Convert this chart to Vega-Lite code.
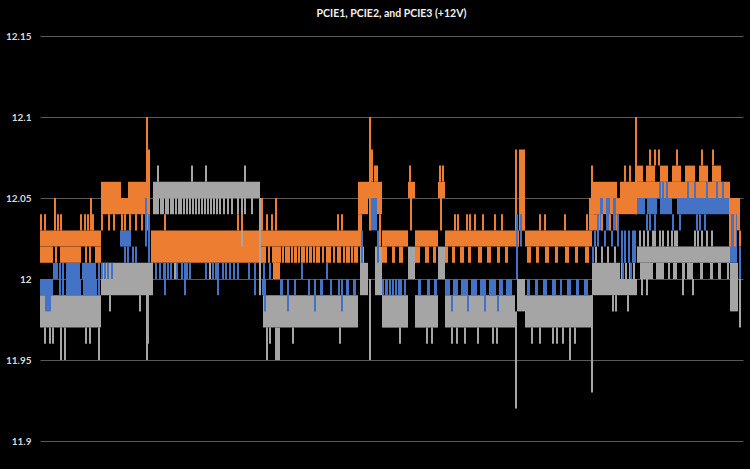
{
  "$schema": "https://vega.github.io/schema/vega-lite/v6.json",
  "title": {
    "text": "PCIE1, PCIE2, and PCIE3 (+12V)",
    "font": "Lato",
    "fontSize": 10.5,
    "fontWeight": "bold",
    "color": "#f2f2f2",
    "offset": 12
  },
  "background": "#000000",
  "autosize": {"type": "none"},
  "padding": {"left": 40, "top": 36, "right": 7, "bottom": 28},
  "width": 703,
  "height": 405,
  "config": {"view": {"stroke": null}},
  "datasets": {
    "bands": [
      {"s": "PCIE3", "t0": 0, "t1": 61, "lo": 11.97, "hi": 11.99},
      {"s": "PCIE3", "t0": 61, "t1": 113, "lo": 11.99, "hi": 12.01},
      {"s": "PCIE3", "t0": 113, "t1": 220, "lo": 12.05, "hi": 12.06},
      {"s": "PCIE3", "t0": 223, "t1": 318, "lo": 11.97, "hi": 11.99},
      {"s": "PCIE3", "t0": 235, "t1": 240, "lo": 11.95, "hi": 11.97},
      {"s": "PCIE3", "t0": 320, "t1": 328, "lo": 11.99, "hi": 12.01},
      {"s": "PCIE3", "t0": 320, "t1": 324, "lo": 12.01, "hi": 12.02},
      {"s": "PCIE3", "t0": 335, "t1": 342, "lo": 11.99, "hi": 12.02},
      {"s": "PCIE3", "t0": 342, "t1": 368, "lo": 11.97, "hi": 11.99},
      {"s": "PCIE3", "t0": 368, "t1": 375, "lo": 12.0, "hi": 12.02},
      {"s": "PCIE3", "t0": 375, "t1": 398, "lo": 11.97, "hi": 11.99},
      {"s": "PCIE3", "t0": 398, "t1": 405, "lo": 12.0, "hi": 12.02},
      {"s": "PCIE3", "t0": 405, "t1": 475, "lo": 11.97, "hi": 11.99},
      {"s": "PCIE3", "t0": 477, "t1": 485, "lo": 11.98, "hi": 12.0},
      {"s": "PCIE3", "t0": 485, "t1": 552, "lo": 11.97, "hi": 11.99},
      {"s": "PCIE3", "t0": 552, "t1": 580, "lo": 11.99, "hi": 12.01},
      {"s": "PCIE3", "t0": 580, "t1": 597, "lo": 11.99, "hi": 12.0},
      {"s": "PCIE3", "t0": 597, "t1": 690, "lo": 12.01, "hi": 12.02},
      {"s": "PCIE3", "t0": 600, "t1": 613, "lo": 12.0, "hi": 12.01},
      {"s": "PCIE3", "t0": 616, "t1": 624, "lo": 12.0, "hi": 12.01},
      {"s": "PCIE3", "t0": 628, "t1": 630, "lo": 12.0, "hi": 12.01},
      {"s": "PCIE3", "t0": 633, "t1": 637, "lo": 12.0, "hi": 12.01},
      {"s": "PCIE3", "t0": 642, "t1": 645, "lo": 12.0, "hi": 12.01},
      {"s": "PCIE3", "t0": 647, "t1": 653, "lo": 12.0, "hi": 12.01},
      {"s": "PCIE3", "t0": 660, "t1": 663, "lo": 12.0, "hi": 12.01},
      {"s": "PCIE3", "t0": 670, "t1": 673, "lo": 12.0, "hi": 12.01},
      {"s": "PCIE3", "t0": 678, "t1": 681, "lo": 12.0, "hi": 12.01},
      {"s": "PCIE3", "t0": 687, "t1": 689, "lo": 12.0, "hi": 12.01},
      {"s": "PCIE3", "t0": 690, "t1": 698, "lo": 11.98, "hi": 12.01},

      {"s": "PCIE2", "t0": 0, "t1": 61, "lo": 12.02, "hi": 12.03},
      {"s": "PCIE2", "t0": 0, "t1": 13, "lo": 12.01, "hi": 12.02},
      {"s": "PCIE2", "t0": 20, "t1": 41, "lo": 12.01, "hi": 12.02},
      {"s": "PCIE2", "t0": 55, "t1": 61, "lo": 12.01, "hi": 12.02},
      {"s": "PCIE2", "t0": 61, "t1": 108, "lo": 12.04, "hi": 12.05},
      {"s": "PCIE2", "t0": 61, "t1": 81, "lo": 12.05, "hi": 12.06},
      {"s": "PCIE2", "t0": 88, "t1": 108, "lo": 12.05, "hi": 12.06},
      {"s": "PCIE2", "t0": 111, "t1": 220, "lo": 12.01, "hi": 12.03},
      {"s": "PCIE2", "t0": 220, "t1": 318, "lo": 12.02, "hi": 12.03},
      {"s": "PCIE2", "t0": 220, "t1": 226, "lo": 12.01, "hi": 12.02},
      {"s": "PCIE2", "t0": 232, "t1": 241, "lo": 12.01, "hi": 12.02},
      {"s": "PCIE2", "t0": 245, "t1": 250, "lo": 12.01, "hi": 12.02},
      {"s": "PCIE2", "t0": 254, "t1": 257, "lo": 12.01, "hi": 12.02},
      {"s": "PCIE2", "t0": 261, "t1": 265, "lo": 12.01, "hi": 12.02},
      {"s": "PCIE2", "t0": 269, "t1": 272, "lo": 12.01, "hi": 12.02},
      {"s": "PCIE2", "t0": 276, "t1": 280, "lo": 12.01, "hi": 12.02},
      {"s": "PCIE2", "t0": 286, "t1": 291, "lo": 12.01, "hi": 12.02},
      {"s": "PCIE2", "t0": 297, "t1": 301, "lo": 12.01, "hi": 12.02},
      {"s": "PCIE2", "t0": 306, "t1": 310, "lo": 12.01, "hi": 12.02},
      {"s": "PCIE2", "t0": 314, "t1": 318, "lo": 12.01, "hi": 12.02},
      {"s": "PCIE2", "t0": 233, "t1": 240, "lo": 12.0, "hi": 12.01},
      {"s": "PCIE2", "t0": 318, "t1": 342, "lo": 12.05, "hi": 12.06},
      {"s": "PCIE2", "t0": 318, "t1": 328, "lo": 12.04, "hi": 12.05},
      {"s": "PCIE2", "t0": 335, "t1": 342, "lo": 12.04, "hi": 12.05},
      {"s": "PCIE2", "t0": 318, "t1": 322, "lo": 12.02, "hi": 12.04},
      {"s": "PCIE2", "t0": 342, "t1": 368, "lo": 12.02, "hi": 12.03},
      {"s": "PCIE2", "t0": 342, "t1": 347, "lo": 12.01, "hi": 12.02},
      {"s": "PCIE2", "t0": 352, "t1": 355, "lo": 12.01, "hi": 12.02},
      {"s": "PCIE2", "t0": 359, "t1": 363, "lo": 12.01, "hi": 12.02},
      {"s": "PCIE2", "t0": 368, "t1": 375, "lo": 12.05, "hi": 12.06},
      {"s": "PCIE2", "t0": 375, "t1": 398, "lo": 12.02, "hi": 12.03},
      {"s": "PCIE2", "t0": 375, "t1": 380, "lo": 12.01, "hi": 12.02},
      {"s": "PCIE2", "t0": 385, "t1": 389, "lo": 12.01, "hi": 12.02},
      {"s": "PCIE2", "t0": 393, "t1": 396, "lo": 12.01, "hi": 12.02},
      {"s": "PCIE2", "t0": 398, "t1": 405, "lo": 12.05, "hi": 12.06},
      {"s": "PCIE2", "t0": 405, "t1": 475, "lo": 12.02, "hi": 12.03},
      {"s": "PCIE2", "t0": 405, "t1": 408, "lo": 12.01, "hi": 12.02},
      {"s": "PCIE2", "t0": 412, "t1": 415, "lo": 12.01, "hi": 12.02},
      {"s": "PCIE2", "t0": 420, "t1": 424, "lo": 12.01, "hi": 12.02},
      {"s": "PCIE2", "t0": 428, "t1": 431, "lo": 12.01, "hi": 12.02},
      {"s": "PCIE2", "t0": 438, "t1": 442, "lo": 12.01, "hi": 12.02},
      {"s": "PCIE2", "t0": 447, "t1": 451, "lo": 12.01, "hi": 12.02},
      {"s": "PCIE2", "t0": 457, "t1": 460, "lo": 12.01, "hi": 12.02},
      {"s": "PCIE2", "t0": 465, "t1": 468, "lo": 12.01, "hi": 12.02},
      {"s": "PCIE2", "t0": 475, "t1": 479, "lo": 12.02, "hi": 12.03},
      {"s": "PCIE2", "t0": 479, "t1": 485, "lo": 12.03, "hi": 12.06},
      {"s": "PCIE2", "t0": 485, "t1": 552, "lo": 12.02, "hi": 12.03},
      {"s": "PCIE2", "t0": 487, "t1": 491, "lo": 12.01, "hi": 12.02},
      {"s": "PCIE2", "t0": 496, "t1": 499, "lo": 12.01, "hi": 12.02},
      {"s": "PCIE2", "t0": 505, "t1": 509, "lo": 12.01, "hi": 12.02},
      {"s": "PCIE2", "t0": 515, "t1": 518, "lo": 12.01, "hi": 12.02},
      {"s": "PCIE2", "t0": 525, "t1": 529, "lo": 12.01, "hi": 12.02},
      {"s": "PCIE2", "t0": 535, "t1": 538, "lo": 12.01, "hi": 12.02},
      {"s": "PCIE2", "t0": 545, "t1": 549, "lo": 12.01, "hi": 12.02},
      {"s": "PCIE2", "t0": 552, "t1": 577, "lo": 12.05, "hi": 12.06},
      {"s": "PCIE2", "t0": 552, "t1": 580, "lo": 12.04, "hi": 12.05},
      {"s": "PCIE2", "t0": 552, "t1": 560, "lo": 12.03, "hi": 12.04},
      {"s": "PCIE2", "t0": 580, "t1": 690, "lo": 12.05, "hi": 12.06},
      {"s": "PCIE2", "t0": 580, "t1": 597, "lo": 12.04, "hi": 12.05},
      {"s": "PCIE2", "t0": 597, "t1": 603, "lo": 12.06, "hi": 12.07},
      {"s": "PCIE2", "t0": 606, "t1": 615, "lo": 12.06, "hi": 12.07},
      {"s": "PCIE2", "t0": 620, "t1": 628, "lo": 12.06, "hi": 12.07},
      {"s": "PCIE2", "t0": 632, "t1": 641, "lo": 12.06, "hi": 12.07},
      {"s": "PCIE2", "t0": 645, "t1": 655, "lo": 12.06, "hi": 12.07},
      {"s": "PCIE2", "t0": 659, "t1": 668, "lo": 12.06, "hi": 12.07},
      {"s": "PCIE2", "t0": 672, "t1": 681, "lo": 12.06, "hi": 12.07},
      {"s": "PCIE2", "t0": 690, "t1": 700, "lo": 12.03, "hi": 12.05},

      {"s": "PCIE1", "t0": 0, "t1": 13, "lo": 11.99, "hi": 12.0},
      {"s": "PCIE1", "t0": 13, "t1": 18, "lo": 12.0, "hi": 12.01},
      {"s": "PCIE1", "t0": 26, "t1": 40, "lo": 12.0, "hi": 12.01},
      {"s": "PCIE1", "t0": 42, "t1": 56, "lo": 12.0, "hi": 12.01},
      {"s": "PCIE1", "t0": 26, "t1": 41, "lo": 11.99, "hi": 12.0},
      {"s": "PCIE1", "t0": 43, "t1": 57, "lo": 11.99, "hi": 12.0},
      {"s": "PCIE1", "t0": 5, "t1": 11, "lo": 11.98, "hi": 11.99},
      {"s": "PCIE1", "t0": 80, "t1": 91, "lo": 12.02, "hi": 12.03},
      {"s": "PCIE1", "t0": 222, "t1": 226, "lo": 11.99, "hi": 12.0},
      {"s": "PCIE1", "t0": 240, "t1": 243, "lo": 11.99, "hi": 12.0},
      {"s": "PCIE1", "t0": 254, "t1": 256, "lo": 11.99, "hi": 12.0},
      {"s": "PCIE1", "t0": 268, "t1": 270, "lo": 11.99, "hi": 12.0},
      {"s": "PCIE1", "t0": 280, "t1": 283, "lo": 11.99, "hi": 12.0},
      {"s": "PCIE1", "t0": 290, "t1": 292, "lo": 11.99, "hi": 12.0},
      {"s": "PCIE1", "t0": 298, "t1": 300, "lo": 11.99, "hi": 12.0},
      {"s": "PCIE1", "t0": 306, "t1": 309, "lo": 11.99, "hi": 12.0},
      {"s": "PCIE1", "t0": 313, "t1": 316, "lo": 11.99, "hi": 12.0},
      {"s": "PCIE1", "t0": 330, "t1": 337, "lo": 12.03, "hi": 12.05},
      {"s": "PCIE1", "t0": 345, "t1": 348, "lo": 11.99, "hi": 12.0},
      {"s": "PCIE1", "t0": 352, "t1": 354, "lo": 11.99, "hi": 12.0},
      {"s": "PCIE1", "t0": 358, "t1": 362, "lo": 11.99, "hi": 12.0},
      {"s": "PCIE1", "t0": 378, "t1": 381, "lo": 11.99, "hi": 12.0},
      {"s": "PCIE1", "t0": 387, "t1": 390, "lo": 11.99, "hi": 12.0},
      {"s": "PCIE1", "t0": 394, "t1": 397, "lo": 11.99, "hi": 12.0},
      {"s": "PCIE1", "t0": 405, "t1": 410, "lo": 11.99, "hi": 12.0},
      {"s": "PCIE1", "t0": 413, "t1": 418, "lo": 11.99, "hi": 12.0},
      {"s": "PCIE1", "t0": 421, "t1": 428, "lo": 11.99, "hi": 12.0},
      {"s": "PCIE1", "t0": 431, "t1": 437, "lo": 11.99, "hi": 12.0},
      {"s": "PCIE1", "t0": 440, "t1": 446, "lo": 11.99, "hi": 12.0},
      {"s": "PCIE1", "t0": 449, "t1": 456, "lo": 11.99, "hi": 12.0},
      {"s": "PCIE1", "t0": 459, "t1": 463, "lo": 11.99, "hi": 12.0},
      {"s": "PCIE1", "t0": 466, "t1": 472, "lo": 11.99, "hi": 12.0},
      {"s": "PCIE1", "t0": 487, "t1": 490, "lo": 11.99, "hi": 12.0},
      {"s": "PCIE1", "t0": 495, "t1": 498, "lo": 11.99, "hi": 12.0},
      {"s": "PCIE1", "t0": 503, "t1": 507, "lo": 11.99, "hi": 12.0},
      {"s": "PCIE1", "t0": 512, "t1": 516, "lo": 11.99, "hi": 12.0},
      {"s": "PCIE1", "t0": 520, "t1": 522, "lo": 11.99, "hi": 12.0},
      {"s": "PCIE1", "t0": 527, "t1": 531, "lo": 11.99, "hi": 12.0},
      {"s": "PCIE1", "t0": 536, "t1": 539, "lo": 11.99, "hi": 12.0},
      {"s": "PCIE1", "t0": 544, "t1": 548, "lo": 11.99, "hi": 12.0},
      {"s": "PCIE1", "t0": 560, "t1": 563, "lo": 12.03, "hi": 12.05},
      {"s": "PCIE1", "t0": 566, "t1": 570, "lo": 12.03, "hi": 12.05},
      {"s": "PCIE1", "t0": 573, "t1": 576, "lo": 12.03, "hi": 12.05},
      {"s": "PCIE1", "t0": 597, "t1": 605, "lo": 12.04, "hi": 12.05},
      {"s": "PCIE1", "t0": 607, "t1": 617, "lo": 12.04, "hi": 12.05},
      {"s": "PCIE1", "t0": 620, "t1": 632, "lo": 12.04, "hi": 12.05},
      {"s": "PCIE1", "t0": 637, "t1": 690, "lo": 12.04, "hi": 12.05},
      {"s": "PCIE1", "t0": 690, "t1": 697, "lo": 12.01, "hi": 12.04}
    ],
    "lines": [
      {"s": "PCIE3", "t": 5, "lo": 11.96, "hi": 11.97},
      {"s": "PCIE3", "t": 10, "lo": 11.96, "hi": 11.97},
      {"s": "PCIE3", "t": 13, "lo": 11.96, "hi": 11.97},
      {"s": "PCIE3", "t": 46, "lo": 11.96, "hi": 11.97},
      {"s": "PCIE3", "t": 50, "lo": 11.96, "hi": 11.97},
      {"s": "PCIE3", "t": 21, "lo": 11.95, "hi": 11.97},
      {"s": "PCIE3", "t": 25, "lo": 11.95, "hi": 11.97},
      {"s": "PCIE3", "t": 59, "lo": 11.95, "hi": 11.97},
      {"s": "PCIE3", "t": 70, "lo": 11.98, "hi": 11.99},
      {"s": "PCIE3", "t": 100, "lo": 11.98, "hi": 11.99},
      {"s": "PCIE3", "t": 107, "lo": 11.95, "hi": 12.0},
      {"s": "PCIE3", "t": 108, "lo": 11.96, "hi": 12.0},
      {"s": "PCIE3", "t": 114, "lo": 12.04, "hi": 12.05},
      {"s": "PCIE3", "t": 116, "lo": 12.04, "hi": 12.05},
      {"s": "PCIE3", "t": 118, "lo": 12.04, "hi": 12.05},
      {"s": "PCIE3", "t": 121, "lo": 12.04, "hi": 12.05},
      {"s": "PCIE3", "t": 123, "lo": 12.04, "hi": 12.05},
      {"s": "PCIE3", "t": 126, "lo": 12.04, "hi": 12.05},
      {"s": "PCIE3", "t": 128, "lo": 12.04, "hi": 12.05},
      {"s": "PCIE3", "t": 131, "lo": 12.04, "hi": 12.05},
      {"s": "PCIE3", "t": 133, "lo": 12.04, "hi": 12.05},
      {"s": "PCIE3", "t": 136, "lo": 12.04, "hi": 12.05},
      {"s": "PCIE3", "t": 139, "lo": 12.04, "hi": 12.05},
      {"s": "PCIE3", "t": 141, "lo": 12.04, "hi": 12.05},
      {"s": "PCIE3", "t": 144, "lo": 12.04, "hi": 12.05},
      {"s": "PCIE3", "t": 147, "lo": 12.04, "hi": 12.05},
      {"s": "PCIE3", "t": 150, "lo": 12.04, "hi": 12.05},
      {"s": "PCIE3", "t": 153, "lo": 12.04, "hi": 12.05},
      {"s": "PCIE3", "t": 156, "lo": 12.04, "hi": 12.05},
      {"s": "PCIE3", "t": 159, "lo": 12.04, "hi": 12.05},
      {"s": "PCIE3", "t": 162, "lo": 12.04, "hi": 12.05},
      {"s": "PCIE3", "t": 165, "lo": 12.04, "hi": 12.05},
      {"s": "PCIE3", "t": 168, "lo": 12.04, "hi": 12.05},
      {"s": "PCIE3", "t": 171, "lo": 12.04, "hi": 12.05},
      {"s": "PCIE3", "t": 174, "lo": 12.04, "hi": 12.05},
      {"s": "PCIE3", "t": 177, "lo": 12.04, "hi": 12.05},
      {"s": "PCIE3", "t": 180, "lo": 12.04, "hi": 12.05},
      {"s": "PCIE3", "t": 184, "lo": 12.04, "hi": 12.05},
      {"s": "PCIE3", "t": 188, "lo": 12.04, "hi": 12.05},
      {"s": "PCIE3", "t": 192, "lo": 12.04, "hi": 12.05},
      {"s": "PCIE3", "t": 198, "lo": 12.04, "hi": 12.05},
      {"s": "PCIE3", "t": 205, "lo": 12.04, "hi": 12.05},
      {"s": "PCIE3", "t": 212, "lo": 12.04, "hi": 12.05},
      {"s": "PCIE3", "t": 118, "lo": 12.06, "hi": 12.07},
      {"s": "PCIE3", "t": 152, "lo": 12.06, "hi": 12.07},
      {"s": "PCIE3", "t": 166, "lo": 12.06, "hi": 12.07},
      {"s": "PCIE3", "t": 205, "lo": 12.06, "hi": 12.07},
      {"s": "PCIE3", "t": 202, "lo": 12.02, "hi": 12.05},
      {"s": "PCIE3", "t": 135, "lo": 12.0, "hi": 12.01},
      {"s": "PCIE3", "t": 170, "lo": 12.0, "hi": 12.01},
      {"s": "PCIE3", "t": 220, "lo": 11.99, "hi": 12.05},
      {"s": "PCIE3", "t": 227, "lo": 11.95, "hi": 11.97},
      {"s": "PCIE3", "t": 230, "lo": 11.96, "hi": 11.97},
      {"s": "PCIE3", "t": 253, "lo": 11.96, "hi": 11.97},
      {"s": "PCIE3", "t": 300, "lo": 11.96, "hi": 11.97},
      {"s": "PCIE3", "t": 330, "lo": 11.95, "hi": 12.0},
      {"s": "PCIE3", "t": 360, "lo": 11.96, "hi": 11.97},
      {"s": "PCIE3", "t": 387, "lo": 11.96, "hi": 11.97},
      {"s": "PCIE3", "t": 392, "lo": 11.96, "hi": 11.97},
      {"s": "PCIE3", "t": 412, "lo": 11.96, "hi": 11.97},
      {"s": "PCIE3", "t": 417, "lo": 11.96, "hi": 11.97},
      {"s": "PCIE3", "t": 425, "lo": 11.96, "hi": 11.97},
      {"s": "PCIE3", "t": 438, "lo": 11.96, "hi": 11.97},
      {"s": "PCIE3", "t": 453, "lo": 11.96, "hi": 11.97},
      {"s": "PCIE3", "t": 457, "lo": 11.96, "hi": 11.97},
      {"s": "PCIE3", "t": 476, "lo": 11.92, "hi": 11.98},
      {"s": "PCIE3", "t": 492, "lo": 11.96, "hi": 11.97},
      {"s": "PCIE3", "t": 500, "lo": 11.96, "hi": 11.97},
      {"s": "PCIE3", "t": 513, "lo": 11.96, "hi": 11.97},
      {"s": "PCIE3", "t": 517, "lo": 11.96, "hi": 11.97},
      {"s": "PCIE3", "t": 523, "lo": 11.96, "hi": 11.97},
      {"s": "PCIE3", "t": 530, "lo": 11.95, "hi": 11.97},
      {"s": "PCIE3", "t": 535, "lo": 11.96, "hi": 11.97},
      {"s": "PCIE3", "t": 552, "lo": 11.93, "hi": 11.99},
      {"s": "PCIE3", "t": 556, "lo": 12.01, "hi": 12.02},
      {"s": "PCIE3", "t": 562, "lo": 12.01, "hi": 12.02},
      {"s": "PCIE3", "t": 568, "lo": 12.01, "hi": 12.02},
      {"s": "PCIE3", "t": 575, "lo": 12.01, "hi": 12.02},
      {"s": "PCIE3", "t": 573, "lo": 11.98, "hi": 11.99},
      {"s": "PCIE3", "t": 576, "lo": 11.98, "hi": 11.99},
      {"s": "PCIE3", "t": 582, "lo": 12.0, "hi": 12.01},
      {"s": "PCIE3", "t": 586, "lo": 12.0, "hi": 12.01},
      {"s": "PCIE3", "t": 590, "lo": 12.0, "hi": 12.01},
      {"s": "PCIE3", "t": 594, "lo": 12.0, "hi": 12.01},
      {"s": "PCIE3", "t": 588, "lo": 11.98, "hi": 11.99},
      {"s": "PCIE3", "t": 600, "lo": 12.02, "hi": 12.03},
      {"s": "PCIE3", "t": 604, "lo": 12.02, "hi": 12.03},
      {"s": "PCIE3", "t": 608, "lo": 12.02, "hi": 12.03},
      {"s": "PCIE3", "t": 613, "lo": 12.02, "hi": 12.03},
      {"s": "PCIE3", "t": 615, "lo": 12.02, "hi": 12.03},
      {"s": "PCIE3", "t": 620, "lo": 12.02, "hi": 12.03},
      {"s": "PCIE3", "t": 623, "lo": 12.02, "hi": 12.03},
      {"s": "PCIE3", "t": 628, "lo": 12.02, "hi": 12.03},
      {"s": "PCIE3", "t": 632, "lo": 12.02, "hi": 12.03},
      {"s": "PCIE3", "t": 635, "lo": 12.02, "hi": 12.03},
      {"s": "PCIE3", "t": 637, "lo": 12.02, "hi": 12.03},
      {"s": "PCIE3", "t": 655, "lo": 12.02, "hi": 12.03},
      {"s": "PCIE3", "t": 658, "lo": 12.02, "hi": 12.03},
      {"s": "PCIE3", "t": 662, "lo": 12.02, "hi": 12.03},
      {"s": "PCIE3", "t": 667, "lo": 12.02, "hi": 12.03},
      {"s": "PCIE3", "t": 672, "lo": 12.02, "hi": 12.03},
      {"s": "PCIE3", "t": 602, "lo": 11.99, "hi": 12.0},
      {"s": "PCIE3", "t": 607, "lo": 11.99, "hi": 12.0},
      {"s": "PCIE3", "t": 643, "lo": 11.99, "hi": 12.0},
      {"s": "PCIE3", "t": 653, "lo": 11.99, "hi": 12.0},
      {"s": "PCIE3", "t": 700, "lo": 11.97, "hi": 12.0},

      {"s": "PCIE2", "t": 1, "lo": 12.03, "hi": 12.04},
      {"s": "PCIE2", "t": 5, "lo": 12.03, "hi": 12.04},
      {"s": "PCIE2", "t": 18, "lo": 12.03, "hi": 12.04},
      {"s": "PCIE2", "t": 21, "lo": 12.03, "hi": 12.04},
      {"s": "PCIE2", "t": 41, "lo": 12.03, "hi": 12.04},
      {"s": "PCIE2", "t": 45, "lo": 12.03, "hi": 12.04},
      {"s": "PCIE2", "t": 48, "lo": 12.03, "hi": 12.04},
      {"s": "PCIE2", "t": 53, "lo": 12.03, "hi": 12.04},
      {"s": "PCIE2", "t": 15, "lo": 12.03, "hi": 12.05},
      {"s": "PCIE2", "t": 51, "lo": 12.03, "hi": 12.05},
      {"s": "PCIE2", "t": 16, "lo": 12.01, "hi": 12.02},
      {"s": "PCIE2", "t": 46, "lo": 12.01, "hi": 12.02},
      {"s": "PCIE2", "t": 50, "lo": 12.01, "hi": 12.02},
      {"s": "PCIE2", "t": 62, "lo": 12.03, "hi": 12.04},
      {"s": "PCIE2", "t": 69, "lo": 12.03, "hi": 12.04},
      {"s": "PCIE2", "t": 74, "lo": 12.03, "hi": 12.04},
      {"s": "PCIE2", "t": 82, "lo": 12.03, "hi": 12.04},
      {"s": "PCIE2", "t": 85, "lo": 12.03, "hi": 12.04},
      {"s": "PCIE2", "t": 90, "lo": 12.03, "hi": 12.04},
      {"s": "PCIE2", "t": 96, "lo": 12.03, "hi": 12.04},
      {"s": "PCIE2", "t": 102, "lo": 12.03, "hi": 12.04},
      {"s": "PCIE2", "t": 107, "lo": 12.03, "hi": 12.1},
      {"s": "PCIE2", "t": 109, "lo": 12.03, "hi": 12.08},
      {"s": "PCIE2", "t": 125, "lo": 12.03, "hi": 12.04},
      {"s": "PCIE2", "t": 198, "lo": 12.03, "hi": 12.04},
      {"s": "PCIE2", "t": 202, "lo": 12.03, "hi": 12.04},
      {"s": "PCIE2", "t": 222, "lo": 12.03, "hi": 12.05},
      {"s": "PCIE2", "t": 227, "lo": 12.03, "hi": 12.04},
      {"s": "PCIE2", "t": 232, "lo": 12.03, "hi": 12.04},
      {"s": "PCIE2", "t": 236, "lo": 12.03, "hi": 12.05},
      {"s": "PCIE2", "t": 298, "lo": 12.03, "hi": 12.04},
      {"s": "PCIE2", "t": 302, "lo": 12.03, "hi": 12.04},
      {"s": "PCIE2", "t": 229, "lo": 12.01, "hi": 12.02},
      {"s": "PCIE2", "t": 243, "lo": 12.01, "hi": 12.02},
      {"s": "PCIE2", "t": 252, "lo": 12.01, "hi": 12.02},
      {"s": "PCIE2", "t": 259, "lo": 12.01, "hi": 12.02},
      {"s": "PCIE2", "t": 267, "lo": 12.01, "hi": 12.02},
      {"s": "PCIE2", "t": 274, "lo": 12.01, "hi": 12.02},
      {"s": "PCIE2", "t": 283, "lo": 12.01, "hi": 12.02},
      {"s": "PCIE2", "t": 294, "lo": 12.01, "hi": 12.02},
      {"s": "PCIE2", "t": 304, "lo": 12.01, "hi": 12.02},
      {"s": "PCIE2", "t": 312, "lo": 12.01, "hi": 12.02},
      {"s": "PCIE2", "t": 330, "lo": 12.03, "hi": 12.1},
      {"s": "PCIE2", "t": 332, "lo": 12.06, "hi": 12.08},
      {"s": "PCIE2", "t": 335, "lo": 12.06, "hi": 12.07},
      {"s": "PCIE2", "t": 337, "lo": 12.06, "hi": 12.07},
      {"s": "PCIE2", "t": 340, "lo": 12.02, "hi": 12.04},
      {"s": "PCIE2", "t": 370, "lo": 12.06, "hi": 12.07},
      {"s": "PCIE2", "t": 371, "lo": 12.03, "hi": 12.05},
      {"s": "PCIE2", "t": 400, "lo": 12.06, "hi": 12.07},
      {"s": "PCIE2", "t": 403, "lo": 12.06, "hi": 12.07},
      {"s": "PCIE2", "t": 401, "lo": 12.03, "hi": 12.05},
      {"s": "PCIE2", "t": 415, "lo": 12.03, "hi": 12.04},
      {"s": "PCIE2", "t": 418, "lo": 12.03, "hi": 12.04},
      {"s": "PCIE2", "t": 427, "lo": 12.03, "hi": 12.04},
      {"s": "PCIE2", "t": 430, "lo": 12.03, "hi": 12.04},
      {"s": "PCIE2", "t": 435, "lo": 12.03, "hi": 12.04},
      {"s": "PCIE2", "t": 443, "lo": 12.03, "hi": 12.04},
      {"s": "PCIE2", "t": 455, "lo": 12.03, "hi": 12.04},
      {"s": "PCIE2", "t": 462, "lo": 12.03, "hi": 12.04},
      {"s": "PCIE2", "t": 476, "lo": 12.03, "hi": 12.08},
      {"s": "PCIE2", "t": 480, "lo": 12.03, "hi": 12.08},
      {"s": "PCIE2", "t": 482, "lo": 12.03, "hi": 12.08},
      {"s": "PCIE2", "t": 484, "lo": 12.03, "hi": 12.08},
      {"s": "PCIE2", "t": 500, "lo": 12.03, "hi": 12.04},
      {"s": "PCIE2", "t": 505, "lo": 12.03, "hi": 12.04},
      {"s": "PCIE2", "t": 525, "lo": 12.03, "hi": 12.04},
      {"s": "PCIE2", "t": 547, "lo": 12.03, "hi": 12.04},
      {"s": "PCIE2", "t": 550, "lo": 12.03, "hi": 12.05},
      {"s": "PCIE2", "t": 552, "lo": 12.03, "hi": 12.07},
      {"s": "PCIE2", "t": 562, "lo": 12.03, "hi": 12.04},
      {"s": "PCIE2", "t": 570, "lo": 12.03, "hi": 12.04},
      {"s": "PCIE2", "t": 577, "lo": 12.03, "hi": 12.04},
      {"s": "PCIE2", "t": 585, "lo": 12.06, "hi": 12.07},
      {"s": "PCIE2", "t": 590, "lo": 12.06, "hi": 12.07},
      {"s": "PCIE2", "t": 596, "lo": 12.04, "hi": 12.1},
      {"s": "PCIE2", "t": 610, "lo": 12.07, "hi": 12.08},
      {"s": "PCIE2", "t": 615, "lo": 12.07, "hi": 12.08},
      {"s": "PCIE2", "t": 619, "lo": 12.07, "hi": 12.08},
      {"s": "PCIE2", "t": 637, "lo": 12.07, "hi": 12.08},
      {"s": "PCIE2", "t": 662, "lo": 12.07, "hi": 12.08},
      {"s": "PCIE2", "t": 673, "lo": 12.07, "hi": 12.08},
      {"s": "PCIE2", "t": 690, "lo": 12.02, "hi": 12.05},
      {"s": "PCIE2", "t": 695, "lo": 12.02, "hi": 12.04},
      {"s": "PCIE2", "t": 700, "lo": 12.02, "hi": 12.03},

      {"s": "PCIE1", "t": 20, "lo": 11.99, "hi": 12.01},
      {"s": "PCIE1", "t": 23, "lo": 11.99, "hi": 12.01},
      {"s": "PCIE1", "t": 59, "lo": 11.99, "hi": 12.01},
      {"s": "PCIE1", "t": 85, "lo": 12.01, "hi": 12.02},
      {"s": "PCIE1", "t": 88, "lo": 12.01, "hi": 12.02},
      {"s": "PCIE1", "t": 93, "lo": 12.01, "hi": 12.02},
      {"s": "PCIE1", "t": 96, "lo": 12.01, "hi": 12.02},
      {"s": "PCIE1", "t": 62, "lo": 12.0, "hi": 12.01},
      {"s": "PCIE1", "t": 65, "lo": 12.0, "hi": 12.01},
      {"s": "PCIE1", "t": 68, "lo": 12.0, "hi": 12.01},
      {"s": "PCIE1", "t": 72, "lo": 12.0, "hi": 12.01},
      {"s": "PCIE1", "t": 106, "lo": 12.02, "hi": 12.05},
      {"s": "PCIE1", "t": 109, "lo": 12.01, "hi": 12.04},
      {"s": "PCIE1", "t": 116, "lo": 12.0, "hi": 12.01},
      {"s": "PCIE1", "t": 120, "lo": 12.0, "hi": 12.01},
      {"s": "PCIE1", "t": 124, "lo": 12.0, "hi": 12.01},
      {"s": "PCIE1", "t": 128, "lo": 12.0, "hi": 12.01},
      {"s": "PCIE1", "t": 131, "lo": 12.0, "hi": 12.01},
      {"s": "PCIE1", "t": 137, "lo": 12.0, "hi": 12.01},
      {"s": "PCIE1", "t": 142, "lo": 12.0, "hi": 12.01},
      {"s": "PCIE1", "t": 147, "lo": 12.0, "hi": 12.01},
      {"s": "PCIE1", "t": 150, "lo": 12.0, "hi": 12.01},
      {"s": "PCIE1", "t": 166, "lo": 12.0, "hi": 12.01},
      {"s": "PCIE1", "t": 173, "lo": 12.0, "hi": 12.01},
      {"s": "PCIE1", "t": 176, "lo": 12.0, "hi": 12.01},
      {"s": "PCIE1", "t": 183, "lo": 12.0, "hi": 12.01},
      {"s": "PCIE1", "t": 186, "lo": 12.0, "hi": 12.01},
      {"s": "PCIE1", "t": 190, "lo": 12.0, "hi": 12.01},
      {"s": "PCIE1", "t": 194, "lo": 12.0, "hi": 12.01},
      {"s": "PCIE1", "t": 198, "lo": 12.0, "hi": 12.01},
      {"s": "PCIE1", "t": 209, "lo": 12.0, "hi": 12.01},
      {"s": "PCIE1", "t": 125, "lo": 11.99, "hi": 12.01},
      {"s": "PCIE1", "t": 145, "lo": 11.99, "hi": 12.01},
      {"s": "PCIE1", "t": 178, "lo": 11.99, "hi": 12.01},
      {"s": "PCIE1", "t": 215, "lo": 11.99, "hi": 12.01},
      {"s": "PCIE1", "t": 224, "lo": 12.0, "hi": 12.01},
      {"s": "PCIE1", "t": 230, "lo": 12.0, "hi": 12.01},
      {"s": "PCIE1", "t": 262, "lo": 12.0, "hi": 12.01},
      {"s": "PCIE1", "t": 287, "lo": 12.0, "hi": 12.01},
      {"s": "PCIE1", "t": 225, "lo": 11.98, "hi": 12.0},
      {"s": "PCIE1", "t": 248, "lo": 11.98, "hi": 12.0},
      {"s": "PCIE1", "t": 275, "lo": 11.98, "hi": 12.0},
      {"s": "PCIE1", "t": 302, "lo": 11.98, "hi": 12.0},
      {"s": "PCIE1", "t": 322, "lo": 12.01, "hi": 12.03},
      {"s": "PCIE1", "t": 338, "lo": 12.01, "hi": 12.03},
      {"s": "PCIE1", "t": 343, "lo": 11.99, "hi": 12.0},
      {"s": "PCIE1", "t": 350, "lo": 11.99, "hi": 12.0},
      {"s": "PCIE1", "t": 356, "lo": 11.99, "hi": 12.0},
      {"s": "PCIE1", "t": 365, "lo": 11.99, "hi": 12.0},
      {"s": "PCIE1", "t": 412, "lo": 11.98, "hi": 11.99},
      {"s": "PCIE1", "t": 428, "lo": 11.98, "hi": 11.99},
      {"s": "PCIE1", "t": 445, "lo": 11.98, "hi": 11.99},
      {"s": "PCIE1", "t": 458, "lo": 11.98, "hi": 11.99},
      {"s": "PCIE1", "t": 477, "lo": 12.0, "hi": 12.04},
      {"s": "PCIE1", "t": 481, "lo": 12.02, "hi": 12.04},
      {"s": "PCIE1", "t": 553, "lo": 12.01, "hi": 12.02},
      {"s": "PCIE1", "t": 555, "lo": 12.02, "hi": 12.03},
      {"s": "PCIE1", "t": 558, "lo": 12.02, "hi": 12.04},
      {"s": "PCIE1", "t": 565, "lo": 12.02, "hi": 12.03},
      {"s": "PCIE1", "t": 572, "lo": 12.02, "hi": 12.03},
      {"s": "PCIE1", "t": 578, "lo": 12.02, "hi": 12.04},
      {"s": "PCIE1", "t": 582, "lo": 12.01, "hi": 12.03},
      {"s": "PCIE1", "t": 585, "lo": 12.01, "hi": 12.03},
      {"s": "PCIE1", "t": 589, "lo": 12.01, "hi": 12.03},
      {"s": "PCIE1", "t": 593, "lo": 12.01, "hi": 12.03},
      {"s": "PCIE1", "t": 595, "lo": 12.01, "hi": 12.03},
      {"s": "PCIE1", "t": 583, "lo": 12.0, "hi": 12.01},
      {"s": "PCIE1", "t": 591, "lo": 12.0, "hi": 12.01},
      {"s": "PCIE1", "t": 620, "lo": 12.05, "hi": 12.06},
      {"s": "PCIE1", "t": 623, "lo": 12.05, "hi": 12.06},
      {"s": "PCIE1", "t": 627, "lo": 12.05, "hi": 12.06},
      {"s": "PCIE1", "t": 648, "lo": 12.05, "hi": 12.06},
      {"s": "PCIE1", "t": 655, "lo": 12.05, "hi": 12.06},
      {"s": "PCIE1", "t": 667, "lo": 12.05, "hi": 12.06},
      {"s": "PCIE1", "t": 677, "lo": 12.05, "hi": 12.06},
      {"s": "PCIE1", "t": 683, "lo": 12.05, "hi": 12.06},
      {"s": "PCIE1", "t": 607, "lo": 12.03, "hi": 12.04},
      {"s": "PCIE1", "t": 610, "lo": 12.03, "hi": 12.04},
      {"s": "PCIE1", "t": 615, "lo": 12.03, "hi": 12.04},
      {"s": "PCIE1", "t": 633, "lo": 12.03, "hi": 12.04},
      {"s": "PCIE1", "t": 640, "lo": 12.03, "hi": 12.04},
      {"s": "PCIE1", "t": 657, "lo": 12.03, "hi": 12.04},
      {"s": "PCIE1", "t": 660, "lo": 12.03, "hi": 12.04},
      {"s": "PCIE1", "t": 665, "lo": 12.03, "hi": 12.04},
      {"s": "PCIE1", "t": 700, "lo": 12.0, "hi": 12.02}
    ]
  },
  "encoding": {
    "y": {
      "type": "quantitative",
      "scale": {"domain": [11.9, 12.15], "nice": false, "zero": false},
      "axis": {
        "title": null,
        "values": [11.9, 11.95, 12, 12.05, 12.1, 12.15],
        "format": ".2~f",
        "domain": false,
        "ticks": false,
        "labelPadding": 9,
        "labelFont": "Lato",
        "labelFontSize": 10,
        "labelFontWeight": "bold",
        "labelColor": "#d9d9d9",
        "gridColor": "#595959",
        "gridWidth": 1
      }
    },
    "color": {
      "field": "s",
      "type": "nominal",
      "scale": {
        "domain": ["PCIE1", "PCIE2", "PCIE3"],
        "range": ["#4472C4", "#ED7D31", "#A5A5A5"]
      },
      "legend": null
    }
  },
  "layer": [
    {
      "data": {"name": "bands"},
      "mark": {"type": "rect"},
      "encoding": {
        "x": {"field": "t0", "type": "quantitative", "scale": {"domain": [0, 703], "nice": false, "zero": false}, "axis": null},
        "x2": {"field": "t1"},
        "y": {"field": "lo"},
        "y2": {"field": "hi"}
      }
    },
    {
      "data": {"name": "lines"},
      "mark": {"type": "rule", "strokeWidth": 2},
      "encoding": {
        "x": {"field": "t", "type": "quantitative", "scale": {"domain": [0, 703], "nice": false, "zero": false}, "axis": null},
        "y": {"field": "lo"},
        "y2": {"field": "hi"}
      }
    }
  ]
}
